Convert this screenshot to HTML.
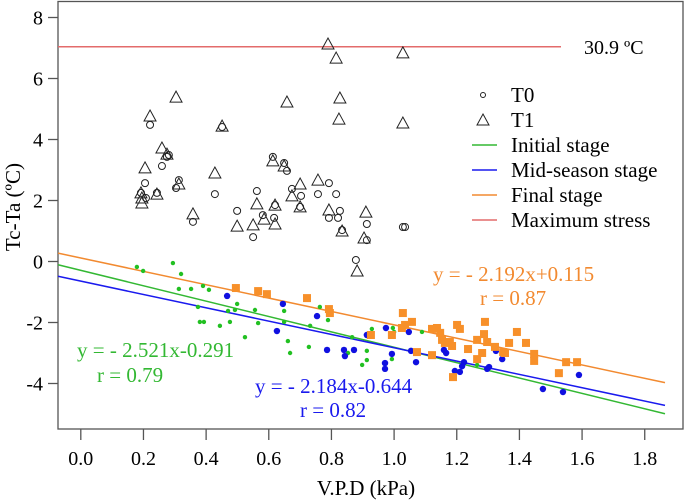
<!DOCTYPE html>
<html><head><meta charset="utf-8"><style>
body{margin:0;background:#fff}
svg{display:block;font-family:"Liberation Serif",serif}
</style></head><body>
<svg id="c" width="685" height="501" viewBox="0 0 685 501">
<rect x="58" y="1.5" width="625" height="427.5" fill="none" stroke="#555" stroke-width="1.3"/>
<g id="ax"></g><g id="mk"></g>
<text x="20" y="207" font-size="21" text-anchor="middle" transform="rotate(-90 20 207)">Tc-Ta (ºC)</text>
<text x="366" y="495" font-size="21" text-anchor="middle">V.P.D (kPa)</text>
<text x="584" y="54" font-size="20">30.9 ºC</text>
<g font-size="21">
<circle cx="483" cy="95" r="2.5" fill="none" stroke="#222"/>
<text x="511" y="102">T0</text>
<polygon points="483,114 489,125 477,125" fill="none" stroke="#222"/>
<text x="511" y="127">T1</text>
<line x1="472" y1="145" x2="497" y2="145" stroke="#33b833" stroke-width="1.5"/><text x="511" y="152">Initial stage</text>
<line x1="472" y1="170" x2="497" y2="170" stroke="#1a1aee" stroke-width="1.5"/><text x="511" y="177">Mid-season stage</text>
<line x1="472" y1="195" x2="497" y2="195" stroke="#f28a30" stroke-width="1.5"/><text x="511" y="202">Final stage</text>
<line x1="472" y1="220" x2="497" y2="220" stroke="#e36b6b" stroke-width="1.5"/><text x="511" y="227">Maximum stress</text>
</g>
<g font-size="21">
<text x="433" y="281" fill="#f28a30">y = - 2.192x+0.115</text>
<text x="480" y="305" fill="#f28a30">r = 0.87</text>
<text x="77" y="357" fill="#33b833">y = - 2.521x-0.291</text>
<text x="97" y="382" fill="#33b833">r = 0.79</text>
<text x="255" y="393" fill="#1a1aee">y = - 2.184x-0.644</text>
<text x="300" y="417" fill="#1a1aee">r = 0.82</text>
</g>
</svg>
<script>
const xTicks=[0,0.2,0.4,0.6,0.8,1.0,1.2,1.4,1.6,1.8];
const yTicks=[-4,-2,0,2,4,6,8];
const maxStress=7.04;
const fits=[{s:-2.521,b:-0.291,c:"#33b833",n:"initial-fit-line"},{s:-2.184,b:-0.644,c:"#1a1aee",n:"mid-fit-line"},{s:-2.192,b:0.115,c:"#f28a30",n:"final-fit-line"}];
const t0=[[0.221,4.48],[0.275,3.43],[0.281,3.49],[0.259,3.13],[0.205,2.57],[0.192,2.25],[0.208,2.08],[0.243,2.25],[0.304,2.41],[0.313,2.67],[0.358,1.30],[0.428,2.21],[0.451,4.41],[0.499,1.66],[0.550,0.80],[0.562,2.31],[0.581,1.52],[0.620,1.85],[0.617,1.43],[0.613,3.43],[0.649,3.23],[0.658,2.97],[0.674,2.38],[0.703,2.15],[0.700,1.79],[0.757,2.21],[0.792,2.57],[0.815,2.21],[0.792,1.43],[0.821,1.43],[0.827,1.66],[0.834,1.03],[0.913,1.23],[0.913,0.70],[0.878,0.05],[1.028,1.13],[1.035,1.13]];
const t1=[[0.789,7.13],[0.815,6.67],[1.028,6.84],[0.304,5.39],[0.658,5.23],[0.827,5.36],[0.221,4.77],[0.824,4.67],[1.028,4.54],[0.451,4.44],[0.259,3.72],[0.275,3.52],[0.205,3.07],[0.428,2.90],[0.613,3.30],[0.649,3.13],[0.192,2.25],[0.195,2.08],[0.195,1.92],[0.243,2.21],[0.313,2.54],[0.358,1.56],[0.499,1.16],[0.550,1.20],[0.562,1.89],[0.585,1.39],[0.620,1.85],[0.620,1.23],[0.674,2.15],[0.700,2.54],[0.700,1.79],[0.757,2.67],[0.792,1.69],[0.834,1.00],[0.910,1.62],[0.904,0.77],[0.882,-0.31]];
const initial=[[0.179,-0.18],[0.199,-0.31],[0.294,-0.05],[0.320,-0.41],[0.313,-0.90],[0.352,-0.90],[0.390,-0.80],[0.409,-0.93],[0.374,-1.49],[0.380,-1.98],[0.393,-1.98],[0.444,-2.11],[0.476,-1.98],[0.470,-1.62],[0.499,-1.39],[0.492,-1.59],[0.556,-1.59],[0.566,-2.02],[0.524,-2.48],[0.649,-1.62],[0.649,-1.98],[0.661,-2.61],[0.668,-3.00],[0.732,-2.11],[0.728,-2.80],[0.763,-1.49],[0.789,-1.92],[0.853,-3.00],[0.866,-2.48],[0.898,-3.39],[0.913,-2.93],[0.913,-3.23],[0.929,-2.21],[0.996,-2.18],[1.000,-2.31],[0.993,-3.20],[1.089,-2.31],[1.265,-3.39]];
const mid=[[0.467,-1.13],[0.645,-1.39],[0.754,-1.79],[0.626,-2.28],[0.786,-2.90],[0.840,-2.90],[0.843,-3.10],[0.872,-2.90],[0.913,-2.41],[0.974,-2.18],[0.971,-3.33],[0.971,-3.52],[0.993,-3.03],[1.047,-2.31],[1.054,-2.93],[1.070,-3.30],[1.159,-2.90],[1.166,-3.00],[1.194,-3.59],[1.210,-3.62],[1.217,-3.43],[1.223,-3.30],[1.297,-3.52],[1.303,-3.46],[1.325,-2.93],[1.345,-3.20],[1.475,-4.18],[1.539,-4.28],[1.590,-3.72]];
const final=[[0.495,-0.87],[0.566,-0.97],[0.594,-1.07],[0.722,-1.20],[0.792,-1.56],[0.795,-1.69],[0.926,-2.41],[0.993,-2.41],[1.028,-1.69],[1.057,-1.98],[1.035,-2.08],[1.025,-2.18],[1.073,-2.97],[1.121,-3.07],[1.121,-2.21],[1.137,-2.18],[1.147,-2.34],[1.153,-2.57],[1.162,-2.67],[1.178,-2.64],[1.185,-2.77],[1.201,-2.08],[1.210,-2.21],[1.236,-2.87],[1.188,-3.79],[1.265,-3.20],[1.281,-3.00],[1.290,-1.98],[1.287,-2.38],[1.265,-2.57],[1.297,-2.64],[1.322,-2.80],[1.348,-2.97],[1.354,-3.00],[1.367,-2.67],[1.392,-2.31],[1.421,-2.67],[1.447,-3.03],[1.447,-3.26],[1.526,-3.66],[1.549,-3.30],[1.584,-3.30]];
const NS="http://www.w3.org/2000/svg";
const X=v=>80.8+v*313.3, Y=v=>261.5-v*30.5;
const XMIN=(58-80.8)/313.3, XMAX=(665-80.8)/313.3;
function mk(p,tag,a){const e=document.createElementNS(NS,tag);for(const k in a)e.setAttribute(k,a[k]);p.appendChild(e);return e;}
const ax=document.getElementById('ax'), g=document.getElementById('mk');
xTicks.forEach(t=>{
 const l=mk(ax,'line',{x1:X(t),x2:X(t),y1:429,y2:440,stroke:'#555','stroke-width':1.3});
 
 
 const tx=mk(ax,'text',{x:X(t),y:465,'font-size':20,'text-anchor':'middle'});tx.textContent=t.toFixed(1);
 
 
});
yTicks.forEach(t=>{
 const l=mk(ax,'line',{x1:48,x2:58,y1:Y(t),y2:Y(t),stroke:'#555','stroke-width':1.3});
 
 
 const tx=mk(ax,'text',{x:43,y:Y(t)+7,'font-size':20,'text-anchor':'end'});tx.textContent=t;
 
 
});
const ms=mk(g,'line',{x1:58,x2:561,y1:Y(maxStress),y2:Y(maxStress),stroke:'#e36b6b','stroke-width':1.5});


fits.forEach(f=>{
 const l=mk(g,'line',{x1:58,x2:665,y1:Y(f.s*XMIN+f.b),y2:Y(f.s*XMAX+f.b),stroke:f.c,'stroke-width':1.5});
 
 
});
t0.forEach(p=>{const e=mk(g,'circle',{cx:X(p[0]),cy:Y(p[1]),r:3.5,fill:'none',stroke:'#222','stroke-width':1});
 
 });
t1.forEach(p=>{const x=X(p[0]),y=Y(p[1]);const e=mk(g,'polygon',{points:`${x},${y-6} ${x+6},${y+5} ${x-6},${y+5}`,fill:'none',stroke:'#222','stroke-width':1});
 
 });
initial.forEach(p=>{const e=mk(g,'circle',{cx:X(p[0]),cy:Y(p[1]),r:2.2,fill:'#22c022'});
 
 });
mid.forEach(p=>{const e=mk(g,'circle',{cx:X(p[0]),cy:Y(p[1]),r:3.2,fill:'#1010e0'});
 
 });
final.forEach(p=>{const e=mk(g,'rect',{x:X(p[0])-4,y:Y(p[1])-4,width:8,height:8,fill:'#f7902a'});
 
 });
</script>
</body></html>
